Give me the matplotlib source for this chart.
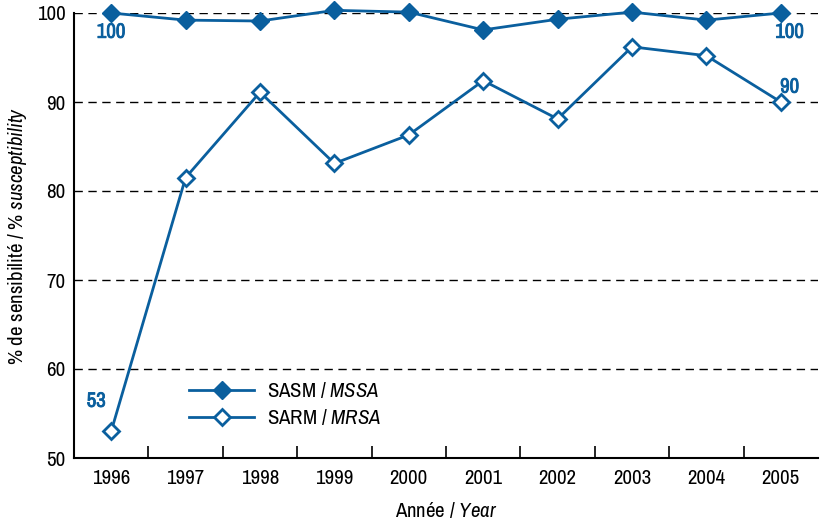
import matplotlib.pyplot as plt
from matplotlib import font_manager
import matplotlib.patheffects as pe

years = ['1996', '1997', '1998', '1999', '2000', '2001', '2002', '2003', '2004', '2005']
mssa = [100, 99.2, 99.1, 100.3, 100.1, 98.1, 99.3, 100.1, 99.2, 100]
mrsa = [53, 81.5, 91.1, 83.1, 86.3, 92.4, 88.1, 96.2, 95.2, 90]

blue = '#0a5f9e'

# narrow face if one is there
fonts = font_manager.fontManager.ttflist
names = [f.name for f in fonts]
narrow = [n for n in names if 'Narrow' in n or 'Condensed' in n]
if 'Liberation Sans Narrow' in names:
    fam = 'Liberation Sans Narrow'
elif narrow:
    fam = narrow[0]
else:
    fam = 'DejaVu Sans'
plt.rcParams['font.family'] = [fam, 'DejaVu Sans']
plt.rcParams['mathtext.fontset'] = 'custom'
plt.rcParams['mathtext.rm'] = fam
plt.rcParams['mathtext.it'] = fam + ':italic'

fs = 15
fig = plt.figure(figsize=(8.23, 5.21), dpi=100)
ax = fig.add_axes([74 / 823, 1 - 458 / 521, 744 / 823, 445 / 521])

x = list(range(len(years)))
ax.plot(x, mssa, color=blue, lw=2, marker='D', ms=9, mfc=blue, mec=blue,
        label='SASM / $\\it{MSSA}$', clip_on=False, zorder=3)
ax.plot(x, mrsa, color=blue, lw=2, marker='D', ms=8, mfc='white', mec=blue,
        mew=2, label='SARM / $\\it{MRSA}$', clip_on=False, zorder=3)

ax.set_xlim(-0.5, len(years) - 0.5)
ax.set_ylim(50, 100)
ax.set_yticks([50, 60, 70, 80, 90, 100])
for v in [60, 70, 80, 90, 100]:
    ax.axhline(v, color='black', lw=1, ls=(0, (6, 4)), zorder=1)

ax.set_xticks(x)
ax.set_xticklabels(years, fontsize=fs)
ax.set_xticks([i + 0.5 for i in x[:-1]], minor=True)
ax.tick_params(axis='x', which='major', length=0, pad=8)
ax.tick_params(axis='x', which='minor', direction='in', length=9, width=1.2)
ax.tick_params(axis='y', length=0, labelsize=fs, pad=6)

for s in ['top', 'right']:
    ax.spines[s].set_visible(False)
ax.spines['left'].set_linewidth(1.5)
ax.spines['bottom'].set_linewidth(1.5)

ax.set_xlabel('Année / $\\it{Year}$', fontsize=fs, labelpad=9)
ax.set_ylabel('% de sensibilité / $\\it{\\%\\ susceptibility}$', fontsize=fs, labelpad=6)

bold = [pe.withStroke(linewidth=0.6, foreground=blue)]
ax.text(0, mssa[0] - 1.1, '100', color=blue, fontsize=fs, fontweight='bold',
        ha='center', va='top', path_effects=bold)
ax.text(9.12, mssa[-1] - 1.1, '100', color=blue, fontsize=fs, fontweight='bold',
        ha='center', va='top', path_effects=bold)
ax.text(-0.2, mrsa[0] + 2.3, '53', color=blue, fontsize=fs, fontweight='bold',
        ha='center', va='bottom', path_effects=bold)
ax.text(9.12, mrsa[-1] + 0.6, '90', color=blue, fontsize=fs, fontweight='bold',
        ha='center', va='bottom', path_effects=bold)

ax.legend(loc='lower left', bbox_to_anchor=(0.13, 0.025), frameon=False,
          fontsize=fs, handlelength=3.1, handletextpad=0.6, labelspacing=0.35)

fig.savefig('out.png', dpi=100)
